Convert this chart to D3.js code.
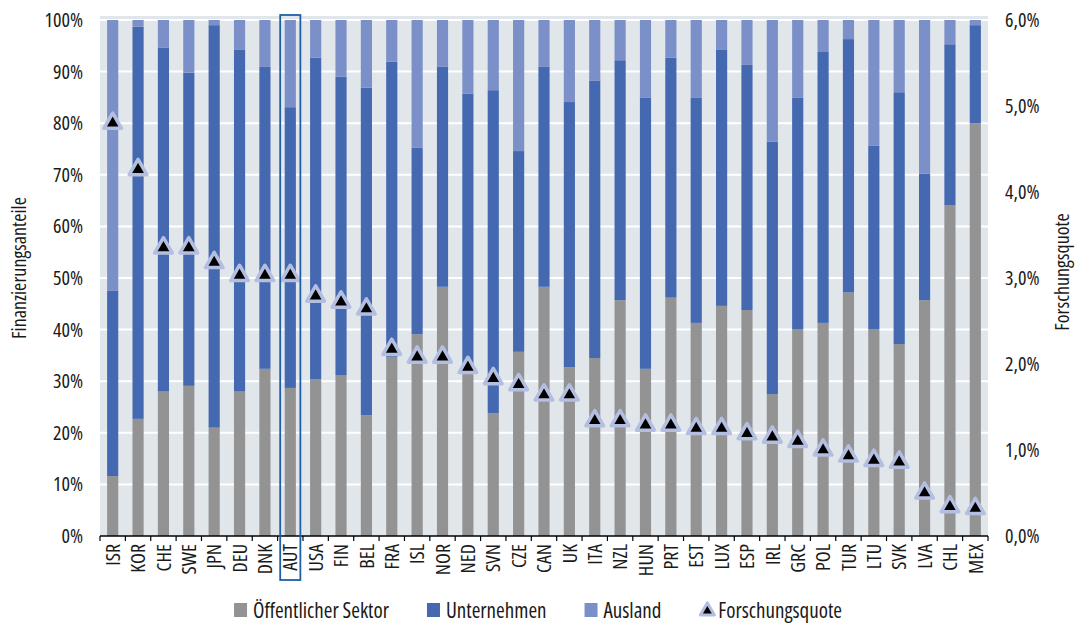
<!DOCTYPE html>
<html>
<head>
<meta charset="utf-8">
<script src="https://cdn.jsdelivr.net/npm/d3@7"></script>
<style>
  html, body { margin: 0; padding: 0; background: #ffffff; }
  svg { display: block; }
  text { font-family: "Open Sans", "DejaVu Sans Condensed", sans-serif; font-stretch: 80%; fill: #1a1a1a; }
</style>
</head>
<body>
<svg id="chart" width="1076" height="624"></svg>
<script>
// OECD-Länder, sortiert nach Forschungsquote
const countries = ["ISR","KOR","CHE","SWE","JPN","DEU","DNK","AUT","USA","FIN","BEL","FRA","ISL","NOR","NED","SVN","CZE","CAN","UK","ITA","NZL","HUN","PRT","EST","LUX","ESP","IRL","GRC","POL","TUR","LTU","SVK","LVA","CHL","MEX"];

// Finanzierungsanteile in %
const oeffentlich = [11.6,22.7,28.0,29.1,21.0,28.0,32.4,28.7,30.4,31.2,23.4,34.7,39.1,48.3,33.0,23.8,35.7,48.3,32.7,34.5,45.7,32.4,46.2,41.3,44.6,43.8,27.5,40.1,41.3,47.2,40.1,37.2,45.7,64.1,80.0];
const unternehmen = [35.9,76.0,66.6,60.7,78.0,66.2,58.5,54.4,62.3,57.8,63.5,57.2,36.2,42.7,52.7,62.6,38.9,42.7,51.4,53.7,46.5,52.5,46.5,43.6,49.6,47.5,48.9,44.8,52.5,49.1,35.5,48.8,24.5,31.2,19.0];
const ausland = oeffentlich.map((d, i) => +(100 - d - unternehmen[i]).toFixed(1));

// Forschungsquote (F&E-Ausgaben in % des BIP)
const forschungsquote = [4.80,4.26,3.35,3.35,3.18,3.03,3.03,3.03,2.79,2.72,2.64,2.17,2.08,2.08,1.96,1.83,1.76,1.64,1.64,1.34,1.34,1.29,1.29,1.25,1.25,1.19,1.15,1.10,1.00,0.93,0.88,0.86,0.50,0.34,0.32];

const leftTicks = [0,10,20,30,40,50,60,70,80,90,100];
const rightTicks = [0,1,2,3,4,5,6];
const highlight = "AUT";

const seriesNames = ["Öffentlicher Sektor","Unternehmen","Ausland"];
const seriesColors = ["#939393","#4469b1","#7b90c8"];

const svg = d3.select("#chart");
const plotL = 100, plotR = 988, plotT = 20, plotB = 536;

const x = d3.scaleBand().domain(countries).range([plotL, plotR]).paddingInner(0.56).paddingOuter(0.28);
const xOuter = d3.scaleBand().domain(countries).range([plotL, plotR]);
const y = d3.scaleLinear().domain([0, 100]).range([plotB, plotT]);
const y2 = d3.scaleLinear().domain([0, 6]).range([plotB, plotT]);

// Hintergrund der Zeichenfläche
svg.append("rect").attr("x", plotL).attr("y", 16).attr("width", plotR - plotL).attr("height", plotB - 16)
  .attr("fill", "#e1e6eb");

// Gitternetzlinien
svg.append("g").selectAll("line").data(leftTicks.filter(d => d > 0)).join("line")
  .attr("x1", plotL).attr("x2", plotR)
  .attr("y1", d => y(d)).attr("y2", d => y(d))
  .attr("stroke", "#ffffff").attr("stroke-width", 2);

// Gestapelte Balken
const rows = countries.map((c, i) => ({ land: c, o: oeffentlich[i], u: unternehmen[i], a: ausland[i] }));
const stacked = d3.stack().keys(["o","u","a"])(rows);

svg.append("g").selectAll("g").data(stacked).join("g")
  .attr("fill", (d, i) => seriesColors[i])
  .selectAll("rect").data(d => d).join("rect")
  .attr("x", d => x(d.data.land))
  .attr("width", x.bandwidth())
  .attr("y", d => y(Math.min(d[1], 100)))
  .attr("height", d => y(d[0]) - y(Math.min(d[1], 100)));

// x-Achse
const gx = svg.append("g").attr("transform", `translate(0,${plotB})`)
  .call(d3.axisBottom(xOuter).tickSize(0).tickPadding(0));
gx.attr("font-family", null);
gx.select(".domain").attr("stroke", "#000").attr("stroke-width", 1.5).attr("d", `M${plotL},0H${plotR}`);
gx.selectAll(".tick text")
  .attr("transform", "rotate(-90)")
  .attr("text-anchor", "end")
  .attr("x", -8).attr("y", 0).attr("dy", "0.36em")
  .style("font-size", "20px");
// Trennstriche zwischen den Kategorien
gx.append("g").selectAll("line").data(d3.range(countries.length + 1)).join("line")
  .attr("x1", i => plotL + i * xOuter.step()).attr("x2", i => plotL + i * xOuter.step())
  .attr("y1", 0).attr("y2", 5).attr("stroke", "#000").attr("stroke-width", 1.2);

// Linke y-Achse
const gy = svg.append("g").attr("transform", `translate(${plotL},0)`)
  .call(d3.axisLeft(y).tickValues(leftTicks).tickFormat(d => d + "%").tickSize(0).tickPadding(17));
gy.select(".domain").remove();
gy.attr("font-family", null);
gy.selectAll(".tick text").style("font-size", "20px");

// Rechte y-Achse
const fmt = d => d.toFixed(1).replace(".", ",") + "%";
const gy2 = svg.append("g").attr("transform", `translate(${plotR},0)`)
  .call(d3.axisRight(y2).tickValues(rightTicks).tickFormat(fmt).tickSize(0).tickPadding(17));
gy2.select(".domain").remove();
gy2.attr("font-family", null);
gy2.selectAll(".tick text").style("font-size", "20px");

// Achsentitel
svg.append("text").attr("transform", "translate(19,268) rotate(-90)")
  .attr("text-anchor", "middle").attr("dy", "0.36em").style("font-size", "20px").text("Finanzierungsanteile");
svg.append("text").attr("transform", "translate(1062,272) rotate(-90)")
  .attr("text-anchor", "middle").attr("dy", "0.36em").style("font-size", "20px").text("Forschungsquote");

// Markierungen der Forschungsquote
const tri = d3.symbol().type(d3.symbolTriangle).size(135);
svg.append("g").selectAll("path").data(forschungsquote).join("path")
  .attr("transform", (d, i) => `translate(${xOuter(countries[i]) + xOuter.bandwidth() / 2},${y2(d)})`)
  .attr("d", tri)
  .attr("fill", "#000").attr("stroke", "#b4bee0").attr("stroke-width", 3.5).attr("stroke-linejoin", "round");

// Hervorhebung Österreich
const hx = x(highlight);
svg.append("rect")
  .attr("x", hx - 4.5).attr("y", 15).attr("width", x.bandwidth() + 9).attr("height", 580 - 15)
  .attr("fill", "none").attr("stroke", "#1f5fa8").attr("stroke-width", 1.8);

// Legende
const legendItems = [
  { name: seriesNames[0], color: seriesColors[0], kind: "rect" },
  { name: seriesNames[1], color: seriesColors[1], kind: "rect" },
  { name: seriesNames[2], color: seriesColors[2], kind: "rect" },
  { name: "Forschungsquote", kind: "tri" }
];
const lg = svg.append("g").attr("class", "legend");
let lx = 0;
const ly = 610;
const gap = 38;
legendItems.forEach(it => {
  const g = lg.append("g").attr("transform", `translate(${lx},0)`);
  if (it.kind === "rect") {
    g.append("rect").attr("x", 0).attr("y", ly - 7).attr("width", 13).attr("height", 14).attr("fill", it.color);
  } else {
    g.append("path").attr("transform", `translate(8,${ly + 1})`).attr("d", d3.symbol().type(d3.symbolTriangle).size(85))
      .attr("fill", "#000").attr("stroke", "#b4bee0").attr("stroke-width", 3).attr("stroke-linejoin", "round");
  }
  const t = g.append("text").attr("x", 19).attr("y", ly).attr("dy", "0.36em").style("font-size", "21px").text(it.name);
  lx += 19 + t.node().getComputedTextLength() + gap;
});
const lw = lx - gap;
lg.attr("transform", `translate(${538 - lw / 2},0)`);
</script>
</body>
</html>
